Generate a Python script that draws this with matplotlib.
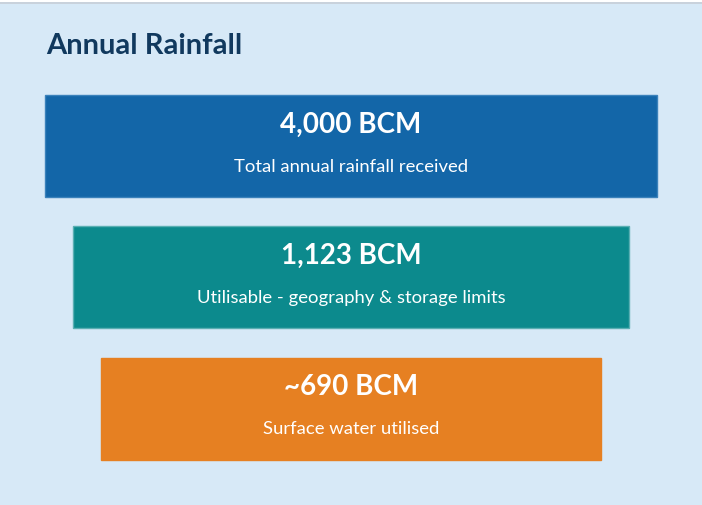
import matplotlib
matplotlib.use("Agg")
import matplotlib.pyplot as plt

# ---- data ----
headlines = ["4,000 BCM", "1,123 BCM", "~690 BCM"]
descriptions = ["Total annual rainfall received",
                "Utilisable - geography & storage limits",
                "Surface water utilised"]
title = "Annual Rainfall"

# ---- style / layout ----
box_colors = ["#1366A8", "#0C8A8D", "#E68022"]
edge_colors = ["#3B82BB", "#5AAFB3", "#E68022"]
box_widths = [612, 556, 500]
box_height = 102
first_top = 95
pitch = 131.3
center_x = 351
bg = "#D7E9F7"
title_color = "#11395E"
FONT = ["Lato", "DejaVu Sans"]

W, H = 702, 505
fig = plt.figure(figsize=(W / 100, H / 100), dpi=100, facecolor=bg)
ax = fig.add_axes([0, 0, 1, 1])
ax.set_xlim(0, W)
ax.set_ylim(H, 0)
ax.set_facecolor(bg)
ax.axis("off")

# top strip (white + thin grey rule)
ax.axhspan(0, 2, color="white", lw=0)
ax.axhspan(2, 3.5, color="#C9D2DC", lw=0)

centers_y = [first_top + box_height / 2 + i * pitch for i in range(len(headlines))]
lefts = [center_x - w / 2 for w in box_widths]
ax.barh(centers_y, box_widths, left=lefts, height=box_height,
        color=box_colors, edgecolor=edge_colors, linewidth=1)

for cy, head, desc in zip(centers_y, headlines, descriptions):
    ax.text(center_x, cy - 21.5, head, ha="center", va="center", color="white",
            fontsize=20, fontweight="bold", family=FONT)
    ax.text(center_x, cy + 20.5, desc, ha="center", va="center", color="white",
            fontsize=13.3, family=FONT)

ax.text(46, 46.5, title, ha="left", va="center", color=title_color,
        fontsize=21, fontweight="bold", family=FONT)

fig.savefig("out.png", dpi=100, facecolor=bg)
